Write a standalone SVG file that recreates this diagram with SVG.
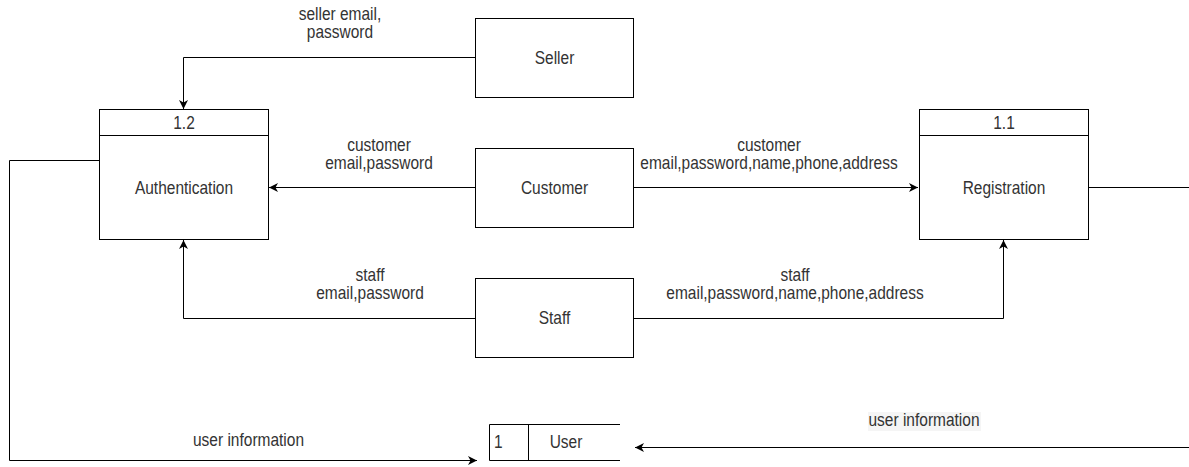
<svg xmlns="http://www.w3.org/2000/svg" width="1189" height="467" viewBox="0 0 1189 467">
<style>
.b{fill:#fff;stroke:#000;stroke-width:1}
.t{font-family:"Liberation Sans",Arial,sans-serif;font-size:15.5px;fill:#333;text-anchor:middle}
.s{text-anchor:start}
.l{fill:none;stroke:#000;stroke-width:1}
</style>
<defs>
<marker id="a" markerWidth="12" markerHeight="12" refX="10" refY="6" orient="auto" markerUnits="userSpaceOnUse">
<path d="M1,1.5 L10,6 L1,10.5 L3.5,6 Z" fill="#000"/>
</marker>
</defs>
<rect width="1189" height="467" fill="#fff"/>
<g id="connectors">
<path class="l" d="M475,57.5 H183.5 V109" marker-end="url(#a)"/>
<path class="l" d="M475,187.5 H269" marker-end="url(#a)"/>
<path class="l" d="M633,187.5 H918" marker-end="url(#a)"/>
<path class="l" d="M475,318.5 H183.5 V240" marker-end="url(#a)"/>
<path class="l" d="M633,318.5 H1003.5 V240" marker-end="url(#a)"/>
<path class="l" d="M1088,187.5 H1189"/>
<path class="l" d="M1189,447.5 H635" marker-end="url(#a)"/>
<path class="l" d="M99,160.5 H9.5 V460.5 H477" marker-end="url(#a)"/>
<rect x="868" y="412" width="113" height="19" fill="#f5f5f5"/>
<text class="t" transform="translate(340,19.5) scale(1,1.15)">seller email,</text>
<text class="t" transform="translate(340,38) scale(1,1.15)">password</text>
<text class="t" transform="translate(379,151) scale(1,1.15)">customer</text>
<text class="t" transform="translate(379,169) scale(1,1.15)">email,password</text>
<text class="t" transform="translate(769,151) scale(1,1.15)">customer</text>
<text class="t" transform="translate(769,169) scale(1,1.15)">email,password,name,phone,address</text>
<text class="t" transform="translate(370,281) scale(1,1.15)">staff</text>
<text class="t" transform="translate(370,299) scale(1,1.15)">email,password</text>
<text class="t" transform="translate(795,281) scale(1,1.15)">staff</text>
<text class="t" transform="translate(795,299) scale(1,1.15)">email,password,name,phone,address</text>
<text class="t" transform="translate(248.5,446) scale(1,1.15)">user information</text>
<text class="t" transform="translate(924,426) scale(1,1.15)">user information</text>
</g>
<g id="seller">
<rect class="b" x="475.5" y="18.5" width="158" height="79"/>
<text class="t" transform="translate(554.5,64) scale(1,1.15)">Seller</text>
</g>
<g id="customer">
<rect class="b" x="475.5" y="148.5" width="158" height="79"/>
<text class="t" transform="translate(554.5,194) scale(1,1.15)">Customer</text>
</g>
<g id="staff">
<rect class="b" x="475.5" y="278.5" width="158" height="79"/>
<text class="t" transform="translate(554.5,324) scale(1,1.15)">Staff</text>
</g>
<g id="authentication">
<rect class="b" x="99.5" y="109.5" width="169" height="130"/>
<line class="l" x1="99.5" y1="135.5" x2="268.5" y2="135.5"/>
<text class="t" transform="translate(184,129) scale(1,1.15)">1.2</text>
<text class="t" transform="translate(184,194) scale(1,1.15)">Authentication</text>
</g>
<g id="registration">
<rect class="b" x="919.5" y="109.5" width="169" height="130"/>
<line class="l" x1="919.5" y1="135.5" x2="1088.5" y2="135.5"/>
<text class="t" transform="translate(1004,129) scale(1,1.15)">1.1</text>
<text class="t" transform="translate(1004,194) scale(1,1.15)">Registration</text>
</g>
<g id="user">
<path class="l" d="M620,424.5 H489.5 V460.5 H620 M528.5,424.5 V460.5"/>
<text class="t s" transform="translate(494,448) scale(1,1.15)">1</text>
<text class="t" transform="translate(566,448) scale(1,1.15)">User</text>
</g>
</svg>
